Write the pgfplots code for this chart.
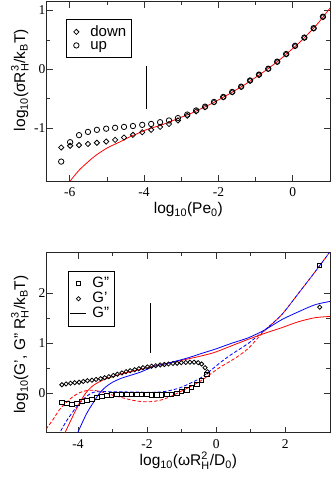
\documentclass[border=0pt]{standalone}
\usepackage{fontspec}
\setmainfont{Liberation Sans}
\newfontfamily\serifticks{Liberation Serif}
\usepackage{amsmath}
\usepackage{pgfplots}
\pgfplotsset{compat=1.18}
\pgfplotsset{
  myaxis/.style={
    scale only axis,
    width=283.3pt,
    axis line style={black!85, line width=0.9pt},
    tick align=inside,
    major tick length=6pt, minor tick length=3.5pt,
    every tick/.style={black!80, line width=0.8pt},
    minor x tick num=1, minor y tick num=1,
    /pgf/number format/assume math mode=true,
    ticklabel style={font=\serifticks\fontsize{13.5}{13.5}\selectfont},
    xticklabel style={anchor=base, yshift=-15.5pt, inner sep=0pt},
    yticklabel style={anchor=east, inner sep=1.2pt},
    label style={font=\fontsize{15.5}{15.5}\selectfont},
    xlabel style={at={(axis description cs:0.5,0)}, anchor=base, yshift=-33pt},
    legend cell align=left,
  },
  markleg/.style={legend image code/.code={
      \path[draw=none, fill=none] (0pt,-1pt) rectangle (19pt,1pt);
      \draw[##1] plot coordinates {(8pt,0pt)};}},
  lineleg/.style={legend image code/.code={
      \draw[##1] (0pt,0pt) -- (16pt,0pt);}},
}
\begin{document}
\begin{tikzpicture}
\path[use as bounding box] (0,0) rectangle (332pt,479pt);
% ---------------- top panel ----------------
\begin{axis}[myaxis,
  at={(46.7pt,298pt)}, anchor=south west,
  height=179.3pt,
  xmin=-6.62, xmax=1.0, ymin=-1.9, ymax=1.15,
  xtick={-6,-4,-2,0}, ytick={-1,0,1},
  xlabel={log$_{\text{10}}$(Pe$_{\text{0}}$)},
  ylabel={log$_{\text{10}}$(σ$\text{R}_{\text{H}}^{\text{3}}$/k$_{\text{B}}$T)},
  ylabel style={at={(axis description cs:-0.076,0.563)}, anchor=base},
  legend style={at={(axis description cs:0.068,0.902)}, anchor=north west,
    draw=black, line width=0.8pt, inner xsep=2pt, inner ysep=5.5pt,
    nodes={font=\fontsize{15}{15}\selectfont, text height=11pt, text depth=2.5pt, inner ysep=0pt, inner xsep=3pt}},
]
\addplot[only marks, mark=square, mark size=1.85pt, mark options={black, line width=0.8pt, rotate=45}, markleg] coordinates {
(-6.23,-1.33) (-5.99,-1.30) (-5.75,-1.29) (-5.51,-1.27) (-5.27,-1.25) (-5.02,-1.23)
(-4.78,-1.20) (-4.54,-1.16) (-4.30,-1.115) (-4.05,-1.07) (-3.81,-1.03) (-3.57,-0.98)
(-3.33,-0.93) (-3.09,-0.87) (-2.84,-0.79) (-2.60,-0.715) (-2.36,-0.645) (-2.12,-0.56)
(-1.87,-0.475) (-1.63,-0.39) (-1.39,-0.30) (-1.15,-0.195) (-0.91,-0.095) (-0.66,0.005)
(-0.42,0.125) (-0.18,0.255) (0.06,0.395) (0.31,0.535) (0.56,0.695) (0.81,0.89)
};
\addlegendentry{down}
\addplot[only marks, mark=o, mark size=2.7pt, mark options={black, line width=0.8pt}, markleg] coordinates {
(-6.23,-1.57) (-5.99,-1.24) (-5.75,-1.12) (-5.51,-1.065) (-5.27,-1.03) (-5.02,-1.01)
(-4.78,-0.995) (-4.54,-0.98) (-4.30,-0.965) (-4.05,-0.945) (-3.81,-0.93) (-3.57,-0.90)
(-3.33,-0.87) (-3.09,-0.83) (-2.84,-0.77) (-2.60,-0.70) (-2.36,-0.635) (-2.12,-0.555)
(-1.87,-0.47) (-1.63,-0.385) (-1.39,-0.295) (-1.15,-0.19) (-0.91,-0.09) (-0.66,0.01)
(-0.42,0.13) (-0.18,0.26) (0.06,0.40) (0.31,0.54) (0.56,0.70) (0.81,0.895)
};
\addlegendentry{up}
\addplot[red, line width=0.8pt, smooth, forget plot] coordinates {
(-6.05,-1.95) (-5.9,-1.83) (-5.74,-1.71) (-5.5,-1.57) (-5.29,-1.46) (-5.0,-1.34)
(-4.84,-1.29) (-4.6,-1.22) (-4.39,-1.15) (-4.2,-1.10) (-3.95,-1.03) (-3.7,-0.98)
(-3.5,-0.94) (-3.3,-0.89) (-3.1,-0.84) (-2.9,-0.79) (-2.7,-0.74) (-2.5,-0.68)
(-2.3,-0.62) (-2.1,-0.555) (-1.9,-0.485) (-1.7,-0.415) (-1.5,-0.34) (-1.3,-0.265)
(-1.1,-0.18) (-0.9,-0.095) (-0.7,-0.005) (-0.5,0.09) (-0.3,0.19) (-0.1,0.30)
(0.1,0.41) (0.3,0.53) (0.5,0.66) (0.7,0.80) (0.9,0.96) (1.0,1.04)
};
\addplot[black, line width=1pt, forget plot] coordinates {(-3.93,0.05) (-3.93,-0.68)};
\end{axis}
% ---------------- bottom panel ----------------
\begin{axis}[myaxis,
  at={(46.7pt,46.3pt)}, anchor=south west,
  height=180pt,
  xmin=-4.91, xmax=3.3, ymin=-0.79, ymax=2.81,
  xtick={-4,-2,0,2}, ytick={0,1,2},
  xlabel={log$_{\text{10}}$(ω$\text{R}_{\text{H}}^{\text{2}}$/D$_{\text{0}}$)},
  ylabel={log$_{\text{10}}$(G', G'' $\text{R}_{\text{H}}^{\text{3}}$/k$_{\text{B}}$T)},
  ylabel style={at={(axis description cs:-0.076,0.49)}, anchor=base},
  legend style={at={(axis description cs:0.074,0.9)}, anchor=north west,
    draw=black, line width=0.8pt, inner xsep=2pt, inner ysep=5pt,
    nodes={font=\fontsize{15}{15}\selectfont, text height=11pt, text depth=3.5pt, inner ysep=0.3pt, inner xsep=3pt}},
]
\addplot[red, line width=0.8pt, smooth, dash pattern=on 3.5pt off 2pt, forget plot] coordinates {
(-4.93,-0.72) (-4.73,-0.53) (-4.54,-0.33) (-4.35,-0.19) (-4.15,-0.07) (-3.96,0.01)
(-3.77,0.05) (-3.6,0.06) (-3.4,0.04) (-3.2,0.0) (-3.0,-0.04) (-2.78,-0.08)
(-2.49,-0.13) (-2.2,-0.165) (-1.91,-0.17) (-1.62,-0.14) (-1.33,-0.07) (-1.04,0.03)
(-0.75,0.13) (-0.46,0.24) (-0.17,0.38) (0.116,0.52) (0.41,0.64) (0.7,0.77)
(0.94,0.9) (1.23,1.12) (1.42,1.26) (1.90,1.57) (2.39,2.0) (2.87,2.43) (3.3,2.83)
};
\addplot[blue, line width=0.8pt, smooth, dash pattern=on 3.5pt off 2pt, forget plot] coordinates {
(-4.58,-0.85) (-4.35,-0.57) (-4.15,-0.37) (-3.96,-0.2) (-3.77,-0.07) (-3.57,0.015)
(-3.38,0.03) (-3.0,0.03) (-2.5,0.025) (-2.0,0.02) (-1.6,0.025) (-1.33,0.055)
(-1.04,0.11) (-0.75,0.2) (-0.46,0.3) (-0.17,0.45) (0.116,0.61) (0.41,0.76)
(0.7,0.89) (0.94,1.0) (1.23,1.16) (1.42,1.27) (1.90,1.57) (2.39,2.0) (2.87,2.43) (3.3,2.83)
};
\addplot[red, line width=0.8pt, smooth, forget plot] coordinates {
(-4.42,-0.85) (-4.16,-0.47) (-3.96,-0.2) (-3.77,0.01) (-3.57,0.15) (-3.38,0.23)
(-3.19,0.29) (-3.0,0.33) (-2.78,0.38) (-2.61,0.41) (-2.2,0.475) (-1.82,0.54)
(-1.4,0.60) (-0.85,0.68) (-0.4,0.75) (-0.03,0.82) (0.455,0.95) (0.94,1.08)
(1.42,1.20) (1.90,1.31) (2.39,1.43) (2.87,1.51) (3.3,1.535)
};
\addplot[blue, line width=0.8pt, smooth, forget plot] coordinates {
(-4.05,-0.85) (-3.77,-0.43) (-3.57,-0.2) (-3.38,0.0) (-3.19,0.13) (-3.0,0.22)
(-2.78,0.29) (-2.61,0.33) (-2.2,0.42) (-1.82,0.53) (-1.4,0.60) (-0.85,0.70)
(-0.4,0.80) (-0.03,0.88) (0.455,1.0) (0.94,1.11) (1.42,1.27) (1.90,1.47)
(2.39,1.63) (2.87,1.77) (3.3,1.835)
};
\addplot[only marks, mark=square, mark size=2.2pt, mark options={black, line width=0.8pt}, markleg] coordinates {
(-4.47,-0.19) (-4.33,-0.21) (-4.18,-0.22) (-4.04,-0.20) (-3.89,-0.17) (-3.75,-0.14)
(-3.60,-0.12) (-3.46,-0.09) (-3.31,-0.07) (-3.17,-0.05) (-3.03,-0.035) (-2.88,-0.025)
(-2.74,-0.02) (-2.59,-0.02) (-2.45,-0.02) (-2.30,-0.025) (-2.16,-0.03) (-2.01,-0.03)
(-1.87,-0.035) (-1.72,-0.035) (-1.58,-0.035) (-1.43,-0.03) (-1.29,-0.02) (-1.14,0.0)
(-1.00,0.03) (-0.85,0.065) (-0.71,0.11) (-0.56,0.175) (-0.42,0.25) (-0.27,0.37)
(3.0,2.55)
};
\addlegendentry{G''}
\addplot[only marks, mark=square, mark size=1.5pt, mark options={black, line width=0.8pt, rotate=45}, markleg] coordinates {
(-4.47,0.17) (-4.35,0.185) (-4.22,0.20) (-4.10,0.21) (-3.97,0.22) (-3.85,0.235)
(-3.73,0.25) (-3.60,0.26) (-3.48,0.275) (-3.35,0.29) (-3.23,0.31) (-3.11,0.33)
(-2.98,0.355) (-2.86,0.38) (-2.73,0.405) (-2.61,0.43) (-2.49,0.45) (-2.36,0.47)
(-2.24,0.49) (-2.12,0.51) (-1.99,0.525) (-1.87,0.54) (-1.75,0.55) (-1.62,0.565)
(-1.50,0.575) (-1.38,0.585) (-1.25,0.595) (-1.13,0.60) (-1.01,0.61) (-0.88,0.615)
(-0.76,0.62) (-0.64,0.62) (-0.52,0.61) (-0.42,0.585) (-0.32,0.51) (-0.25,0.43)
(3.0,1.72)
};
\addlegendentry{G'}
\addlegendimage{black, line width=0.8pt, lineleg}
\addlegendentry{G''}
\addplot[black, line width=1pt, forget plot] coordinates {(-1.91,1.8) (-1.91,0.8)};
\end{axis}
\end{tikzpicture}
\end{document}
